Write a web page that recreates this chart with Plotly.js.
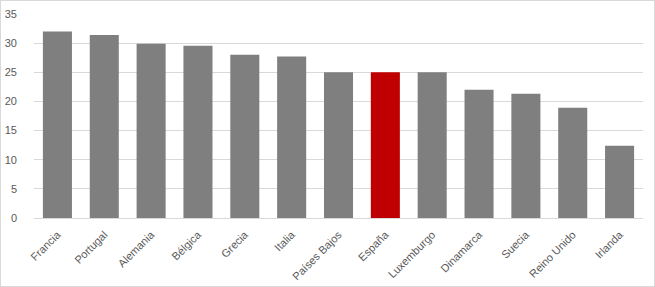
<!DOCTYPE html>
<html>
<head>
<meta charset="utf-8">
<script src="https://cdn.plot.ly/plotly-3.0.1.min.js"></script>
<style>
html,body{margin:0;padding:0;background:#fff;}
#chart{width:655px;height:287px;box-sizing:border-box;border:1px solid #d9d9d9;}
</style>
</head>
<body>
<div id="chart"></div>
<script>
const countries = ["Francia","Portugal","Alemania","Bélgica","Grecia","Italia","Países Bajos","España","Luxemburgo","Dinamarca","Suecia","Reino Unido","Irlanda"];
const values = [32.0,31.4,29.9,29.55,28.0,27.7,25.0,25.0,25.0,22.0,21.3,18.9,12.4];
const highlight = "España";
const colors = countries.map(c => c === highlight ? "#c00000" : "#7f7f7f");

Plotly.newPlot("chart", [{
  type: "bar",
  x: countries,
  y: values,
  marker: {color: colors},
  hoverinfo: "x+y"
}], {
  width: 653, height: 285,
  margin: {l: 33, r: 11, t: 13, b: 68},
  paper_bgcolor: "#fff",
  plot_bgcolor: "#fff",
  bargap: 0.38,
  showlegend: false,
  font: {family: "Liberation Sans, Arial, sans-serif", size: 11, color: "#595959"},
  xaxis: {
    tickangle: -45,
    showline: true, linecolor: "#d9d9d9", linewidth: 1,
    ticks: "", showgrid: false,
    ticklabelstandoff: 5,
    tickfont: {size: 11, color: "#595959"}
  },
  yaxis: {
    range: [0, 35], dtick: 5,
    showgrid: true, gridcolor: "#d9d9d9", gridwidth: 1,
    zeroline: false, showline: false, ticks: "",
    ticklabelstandoff: 16,
    tickfont: {size: 11, color: "#595959"}
  }
}, {displayModeBar: false, staticPlot: true});
</script>
</body>
</html>
